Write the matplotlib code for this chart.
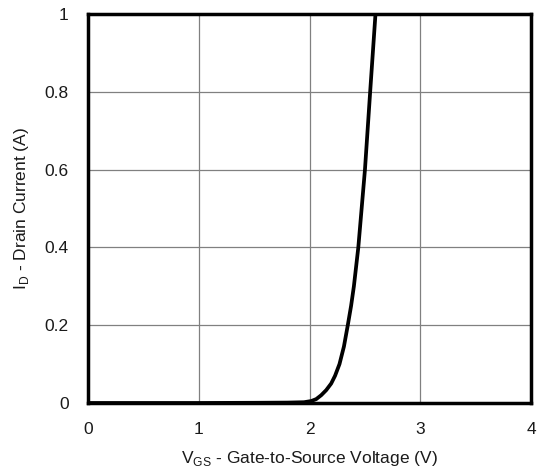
import matplotlib
matplotlib.use("Agg")
import matplotlib.pyplot as plt
import numpy as np

plt.rcParams['font.family'] = ['Liberation Sans', 'DejaVu Sans']
plt.rcParams['mathtext.fontset'] = 'custom'
plt.rcParams['mathtext.rm'] = 'Liberation Sans'

vgs = [0.0, 1.0, 1.5, 1.8, 1.95, 2.015, 2.06, 2.105, 2.15, 2.195, 2.23, 2.27, 2.31, 2.345, 2.375, 2.4, 2.44, 2.47, 2.50, 2.547, 2.595]
id_a = [0.0, 0.0, 0.0005, 0.001, 0.002, 0.005, 0.01, 0.02, 0.033, 0.05, 0.07, 0.1, 0.145, 0.2, 0.25, 0.3, 0.4, 0.5, 0.6, 0.8, 1.0]

x_ticks = [0, 1, 2, 3, 4]
y_ticks = [0, 0.2, 0.4, 0.6, 0.8, 1]
y_labels = ['0', '0.2', '0.4', '0.6', '0.8', '1']

fig = plt.figure(figsize=(5.37, 4.71), dpi=100)
ax = fig.add_axes([0.164, 0.1444, 0.825, 0.826])
ax.plot(vgs, id_a, color='black', lw=2.7, solid_capstyle='butt', solid_joinstyle='round', zorder=3)
ax.set_xlim(0, 4)
ax.set_ylim(0, 1)
ax.set_xticks(x_ticks)
ax.set_yticks(y_ticks)
ax.set_yticklabels(y_labels)
ax.grid(True, color='#808080', lw=0.9)
ax.tick_params(length=0, labelsize=12.5, colors='#1a1a1a', pad=14)
for s in ax.spines.values():
    s.set_linewidth(2.5)
    s.set_color('black')
ax.set_xlabel(r'V$_{\mathregular{GS}}$ - Gate-to-Source Voltage (V)', fontsize=12.5, color='#1a1a1a', labelpad=8)
ax.set_ylabel(r'I$_{\mathregular{D}}$ - Drain Current (A)', fontsize=12.5, color='#1a1a1a', labelpad=10)
fig.savefig('out.png', dpi=100)
